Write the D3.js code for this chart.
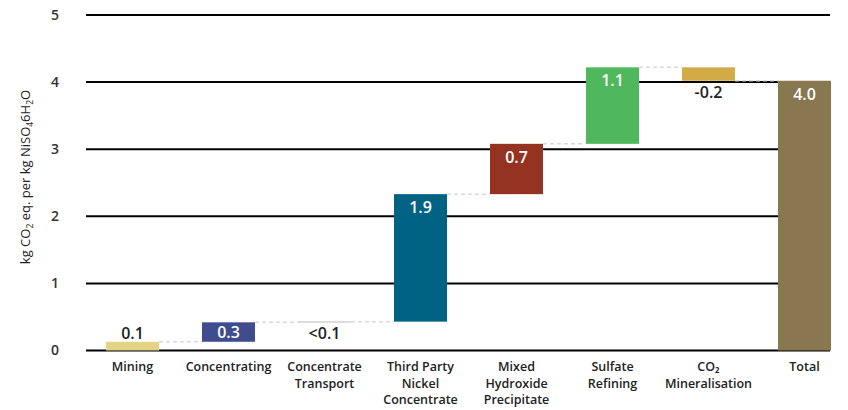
<!DOCTYPE html>
<html><head><meta charset="utf-8">
<script src="https://cdn.jsdelivr.net/npm/d3@7"></script>
<style>body{margin:0;background:#fff;}svg{display:block;font-family:"Open Sans",sans-serif;}</style>
</head><body>
<svg id="c" width="848" height="410"></svg>
<script>
const categories = ["Mining","Concentrating","Concentrate Transport","Third Party Nickel Concentrate","Mixed Hydroxide Precipitate","Sulfate Refining","CO2 Mineralisation","Total"];
const categoryLines = [["Mining"],["Concentrating"],["Concentrate","Transport"],["Third Party","Nickel","Concentrate"],["Mixed","Hydroxide","Precipitate"],["Sulfate","Refining"],["CO₂","Mineralisation"],["Total"]];
const values = [0.13, 0.29, 0.01, 1.90, 0.75, 1.14, -0.20, 4.02];
const isTotal = [false,false,false,false,false,false,false,true];
const valueLabels = ["0.1","0.3","<0.1","1.9","0.7","1.1","-0.2","4.0"];
const colors = ["#e3d384","#3f4d8e","#9a9a9a","#006383","#943322","#4fb85c","#d2aa46","#88774f"];
const yTicks = [0,1,2,3,4,5];

const svg = d3.select("#c");
const x = d3.scaleBand().domain(categories).range([84.5, 852.5]).paddingInner(0.448).paddingOuter(0.224);
const y = d3.scaleLinear().domain([0,5]).range([350.5, 15]);
const left = 86, right = 830;

// compute waterfall
let run = 0;
const bars = categories.map((c,i)=>{
  let s, e;
  if (isTotal[i]) { s = 0; e = values[i]; run = values[i]; }
  else { s = run; e = run + values[i]; run = e; }
  return {c, i, s, e, lo: Math.min(s,e), hi: Math.max(s,e)};
});

// gridlines
svg.append("g").selectAll("line").data(yTicks).join("line")
  .attr("x1", left).attr("x2", right)
  .attr("y1", d=>y(d)).attr("y2", d=>y(d))
  .attr("stroke", "#000").attr("stroke-width", 2);

// tick labels
svg.append("g").selectAll("text").data(yTicks).join("text")
  .attr("x", 59).attr("y", d=>y(d)).attr("dy","0.35em")
  .attr("text-anchor","end").attr("font-size",14).attr("font-weight",600).attr("fill","#333").text(d=>d);

// y title
const yt = svg.append("text").attr("transform","translate(30,177) rotate(-90)")
  .attr("text-anchor","middle").attr("font-size",13).attr("fill","#222");
yt.append("tspan").text("kg CO");
yt.append("tspan").attr("font-size",8.5).attr("dy",3).text("2");
yt.append("tspan").attr("dy",-3).text(" eq. per kg NiSO");
yt.append("tspan").attr("font-size",8.5).attr("dy",3).text("4");
yt.append("tspan").attr("dy",-3).text("6H");
yt.append("tspan").attr("font-size",8.5).attr("dy",3).text("2");
yt.append("tspan").attr("dy",-3).text("O");

// bars
svg.append("g").selectAll("rect").data(bars).join("rect")
  .attr("x", d=>x(d.c)).attr("width", x.bandwidth())
  .attr("y", d=>y(d.hi)).attr("height", d=>Math.max(0.5, y(d.lo)-y(d.hi)))
  .attr("fill", d=>colors[d.i]);

// connectors
const conn = bars.slice(0,-1).map((b,i)=>({x1: x(b.c)+x.bandwidth(), x2: x(bars[i+1].c), v: b.e}));
svg.append("g").selectAll("line").data(conn).join("line")
  .attr("x1", d=>d.x1).attr("x2", d=>d.x2).attr("y1", d=>y(d.v)).attr("y2", d=>y(d.v))
  .attr("stroke","#d9d9d9").attr("stroke-width",1.5).attr("stroke-dasharray","4,3");

// value labels
const outside = d => values[d.i] < 0 || valueLabels[d.i].startsWith("<") || (y(d.lo)-y(d.hi)) < 18;
svg.append("g").selectAll("text").data(bars).join("text")
  .attr("x", d=>x(d.c)+x.bandwidth()/2)
  .attr("y", d=>{
    const h = y(d.lo)-y(d.hi);
    const txt = valueLabels[d.i];
    if (values[d.i] < 0 || txt.startsWith("<")) return y(d.lo) + 11;
    if (h < 18) return y(d.hi) - 9;
    if (h < 40) return (y(d.lo)+y(d.hi))/2;
    return y(d.hi) + 13;
  })
  .attr("dy","0.36em").attr("text-anchor","middle").attr("font-size",16).attr("font-weight",600)
  .attr("fill", d=> outside(d) ? "#222" : "#fff")
  .text(d=>valueLabels[d.i]);

// category labels
const cl = svg.append("g").selectAll("text").data(categories).join("text")
  .attr("text-anchor","middle").attr("font-size",12.5).attr("font-weight",600).attr("fill","#222");
cl.each(function(c,i){
  const t = d3.select(this);
  categoryLines[i].forEach((line,j)=>{
    t.append("tspan").attr("x", x(c)+x.bandwidth()/2).attr("y", 371 + j*16.5).text(line);
  });
});
</script>
</body></html>
